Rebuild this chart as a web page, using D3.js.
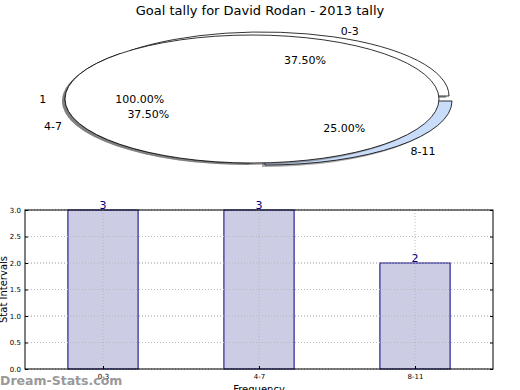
<!DOCTYPE html>
<html lang="en">
<head>
  <meta charset="UTF-8">
  <title>Goal tally</title>
  <style>
    body { margin: 0; background: #fff; }
    svg { display: block; font-family: "DejaVu Sans", sans-serif; }
    .grid line { stroke: #b8b8b8; stroke-dasharray: 1,2; }
  </style>
</head>
<body>
<svg class="chart" width="520" height="390"></svg>

<script src="https://d3js.org/d3.v7.min.js"></script>
<script>
  // Data
  const categories = ['0-3', '4-7', '8-11'];
  const values = [3, 3, 2];
  const explode = [[10, -3], [0, 0], [13, 2]];
  const wedgeColors = ['#ffffff', '#ffffff', '#c9dcfa'];
  const overlayLabel = '1';
  const overlayValue = 1;
  const yTicks = [0, 0.5, 1.0, 1.5, 2.0, 2.5, 3.0];

  const svg = d3.select('.chart');

  // Title
  svg.append('text')
    .attr('x', 260).attr('y', 15)
    .attr('text-anchor', 'middle')
    .style('font-size', '13px')
    .text('Goal tally for David Rodan - 2013 tally');

  // ---- Tilted pie ----
  const cx = 252, cy = 99, rx = 187, ry = 64;
  const total = d3.sum(values);
  const angle = d3.scaleLinear().domain([0, total]).range([0, 2 * Math.PI]);
  const px = (a, k) => rx * k * Math.cos(a);
  const py = (a, k) => -ry * k * Math.sin(a);

  function wedgePath(a0, a1) {
    const large = (a1 - a0) > Math.PI ? 1 : 0;
    return `M0,0L${px(a0, 1)},${py(a0, 1)}A${rx},${ry} 0 ${large} 0 ${px(a1, 1)},${py(a1, 1)}Z`;
  }

  let cum = 0;
  const wedges = values.map((v, i) => {
    const a0 = angle(cum); cum += v;
    const a1 = angle(cum);
    return { label: categories[i], value: v, a0, a1, mid: (a0 + a1) / 2,
             dx: explode[i][0], dy: explode[i][1], color: wedgeColors[i] };
  });

  const pie = svg.append('g').attr('transform', `translate(${cx},${cy})`);

  // shadows
  pie.selectAll('.shadow')
    .data(wedges)
    .enter().append('path')
    .attr('d', d => wedgePath(d.a0, d.a1))
    .attr('transform', d => `translate(${d.dx - 3},${d.dy + 2})`)
    .attr('fill', '#555').attr('opacity', 0.5);

  pie.selectAll('.wedge')
    .data(wedges)
    .enter().append('path')
    .attr('d', d => wedgePath(d.a0, d.a1))
    .attr('transform', d => `translate(${d.dx},${d.dy})`)
    .attr('fill', d => d.color)
    .attr('stroke', '#000').attr('stroke-width', 0.8);

  // overlay full wedge "1"
  pie.append('ellipse')
    .attr('cx', -3).attr('cy', 2).attr('rx', rx).attr('ry', ry)
    .attr('fill', '#555').attr('opacity', 0.5);
  pie.append('ellipse')
    .attr('rx', rx).attr('ry', ry)
    .attr('fill', '#fff').attr('stroke', '#000').attr('stroke-width', 0.8);

  // labels
  const labelFont = '11px';
  wedges.forEach(d => {
    const lx = px(d.mid, 1.1) + d.dx, ly = py(d.mid, 1.1) + d.dy;
    pie.append('text')
      .attr('x', lx).attr('y', ly).attr('dy', '0.35em')
      .attr('text-anchor', Math.cos(d.mid) > 0 ? 'start' : 'end')
      .style('font-size', labelFont)
      .text(d.label);
  });
  const overlayMid = Math.PI;
  pie.append('text')
    .attr('x', px(overlayMid, 1.1)).attr('y', py(overlayMid, 1.1)).attr('dy', '0.35em')
    .attr('text-anchor', 'end').style('font-size', labelFont)
    .text(overlayLabel);

  // percentages
  wedges.forEach(d => {
    pie.append('text')
      .attr('x', px(d.mid, 0.6) + d.dx).attr('y', py(d.mid, 0.6) + d.dy).attr('dy', '0.35em')
      .attr('text-anchor', 'middle').style('font-size', labelFont)
      .text((d.value / total * 100).toFixed(2) + '%');
  });
  pie.append('text')
    .attr('x', px(overlayMid, 0.6)).attr('y', py(overlayMid, 0.6)).attr('dy', '0.35em')
    .attr('text-anchor', 'middle').style('font-size', labelFont)
    .text((overlayValue / overlayValue * 100).toFixed(2) + '%');

  // ---- Bar chart ----
  const pLeft = 25, pRight = 493, pTop = 210, pBottom = 369;
  const x = d3.scalePoint().domain(categories).range([pLeft, pRight]).padding(0.5);
  const y = d3.scaleLinear().domain([0, 3]).range([pBottom, pTop]);
  const barW = x.step() * 0.45;

  const grid = svg.append('g').attr('class', 'grid');
  grid.selectAll('.gy').data(yTicks).enter().append('line')
    .attr('x1', pLeft).attr('x2', pRight)
    .attr('y1', d => y(d)).attr('y2', d => y(d));

  svg.selectAll('.bar')
    .data(categories)
    .enter().append('rect')
    .attr('x', d => x(d) - barW / 2)
    .attr('width', barW)
    .attr('y', (d, i) => y(values[i]))
    .attr('height', (d, i) => pBottom - y(values[i]))
    .attr('fill', '#ccccE5')
    .attr('stroke', '#000080').attr('stroke-width', 1);

  const grid2 = svg.append('g').attr('class', 'grid');
  grid2.selectAll('.gx').data(categories).enter().append('line')
    .attr('x1', d => x(d)).attr('x2', d => x(d))
    .attr('y1', pTop).attr('y2', pBottom);
  grid2.selectAll('.gy').data(yTicks).enter().append('line')
    .attr('x1', pLeft).attr('x2', pRight)
    .attr('y1', d => y(d)).attr('y2', d => y(d));

  // frame
  svg.append('rect')
    .attr('x', pLeft).attr('y', pTop)
    .attr('width', pRight - pLeft).attr('height', pBottom - pTop)
    .attr('fill', 'none').attr('stroke', '#000').attr('stroke-width', 1);

  // axes
  const yAxis = svg.append('g')
    .attr('transform', `translate(${pLeft},0)`)
    .call(d3.axisLeft(y).tickValues(yTicks).tickFormat(d3.format('.1f')).tickSizeInner(-3).tickSizeOuter(0).tickPadding(4));
  yAxis.select('.domain').remove();
  yAxis.selectAll('text').style('font-size', '7px').style('font-family', 'DejaVu Sans');
  yAxis.selectAll('line').attr('stroke', '#000');

  const yAxisR = svg.append('g')
    .attr('transform', `translate(${pRight},0)`)
    .call(d3.axisRight(y).tickValues(yTicks).tickSizeInner(-3).tickSizeOuter(0).tickFormat(''));
  yAxisR.select('.domain').remove();

  const xAxis = svg.append('g')
    .attr('transform', `translate(0,${pBottom})`)
    .call(d3.axisBottom(x).tickSizeInner(-3).tickSizeOuter(0).tickPadding(5));
  xAxis.select('.domain').remove();
  xAxis.selectAll('text').style('font-size', '7px').style('font-family', 'DejaVu Sans');

  // bar value labels
  svg.selectAll('.val')
    .data(categories)
    .enter().append('text')
    .attr('x', d => x(d))
    .attr('y', (d, i) => y(values[i]) - 1)
    .attr('text-anchor', 'middle')
    .attr('fill', '#000080')
    .style('font-size', '11px')
    .text((d, i) => values[i]);

  // axis labels
  svg.append('text')
    .attr('transform', `translate(7,${(pTop + pBottom) / 2}) rotate(-90)`)
    .attr('text-anchor', 'middle')
    .style('font-size', '10px')
    .text('Stat Intervals');

  svg.append('text')
    .attr('x', (pLeft + pRight) / 2).attr('y', 393)
    .attr('text-anchor', 'middle')
    .style('font-size', '10px')
    .text('Frequency');

  // watermark
  svg.append('text')
    .attr('x', 0).attr('y', 385)
    .attr('fill', '#999')
    .style('font-size', '12.5px')
    .style('font-weight', 'bold')
    .text('Dream-Stats.com');
</script>
</body>
</html>
